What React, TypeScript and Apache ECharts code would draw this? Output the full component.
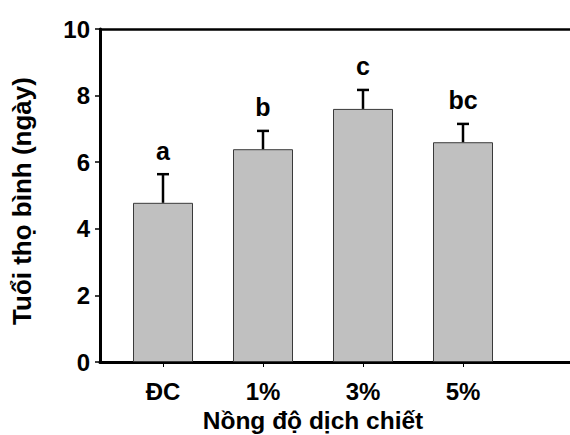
import React, { useEffect, useRef } from "react";
import * as echarts from "echarts";

const categories = ["ĐC", "1%", "3%", "5%"];
const means = [4.78, 6.39, 7.6, 6.6];
const errors = [0.86, 0.55, 0.57, 0.55];
const letters = ["a", "b", "c", "bc"];
const yMin = 0;
const yMax = 10;
const yInterval = 2;
const xTitle = "Nồng độ dịch chiết";
const yTitle = "Tuổi thọ bình (ngày)";

const FONT = "'Liberation Sans', Arial, sans-serif";

export default function App() {
  const ref = useRef<HTMLDivElement>(null);
  useEffect(() => {
    if (!ref.current) return;
    const chart = echarts.init(ref.current, null, { renderer: "svg" });
    const errData = categories.map((_, i) => [i, means[i], errors[i]]);
    chart.setOption({
      animation: false,
      backgroundColor: "#ffffff",
      grid: [
        { left: 100, top: 29, right: 0, height: 333, outerBoundsMode: "none", containLabel: false },
        { left: 113, top: 29, width: 400, height: 333, outerBoundsMode: "none", containLabel: false },
      ],
      xAxis: [
        {
          gridIndex: 0,
          type: "value",
          min: 0,
          max: 1,
          position: "bottom",
          axisLine: { show: true, lineStyle: { color: "#000", width: 3 } },
          axisTick: { show: false },
          axisLabel: { show: false },
          splitLine: { show: false },
        },
        {
          gridIndex: 0,
          type: "value",
          min: 0,
          max: 1,
          position: "top",
          axisLine: { show: true, lineStyle: { color: "#000", width: 2.5 } },
          axisTick: { show: false },
          axisLabel: { show: false },
          splitLine: { show: false },
        },
        {
          gridIndex: 1,
          type: "category",
          data: categories,
          position: "bottom",
          axisLine: { show: false },
          axisTick: { show: true, alignWithLabel: true, length: 5, lineStyle: { color: "#000", width: 1 } },
          axisLabel: {
            margin: 17,
            color: "#000",
            fontFamily: FONT,
            fontWeight: 700,
            fontSize: 24,
          },
          name: xTitle,
          nameLocation: "middle",
          nameGap: 46,
          nameTextStyle: { color: "#000", fontFamily: FONT, fontWeight: 700, fontSize: 24.5 },
          splitLine: { show: false },
        },
      ],
      yAxis: [
        {
          gridIndex: 0,
          type: "value",
          min: yMin,
          max: yMax,
          interval: yInterval,
          axisLine: { show: true, lineStyle: { color: "#000", width: 3 } },
          axisTick: { show: true, inside: false, length: 5, lineStyle: { color: "#000", width: 1.5 } },
          axisLabel: {
            margin: 10,
            color: "#000",
            fontFamily: FONT,
            fontWeight: 700,
            fontSize: 24,
          },
          splitLine: { show: false },
          name: yTitle,
          nameLocation: "middle",
          nameGap: 65,
          nameTextStyle: {
            color: "#000",
            fontFamily: FONT,
            fontWeight: 700,
            fontSize: 26,
            padding: [0, 11, 0, 0],
          },
        },
        {
          gridIndex: 1,
          type: "value",
          min: yMin,
          max: yMax,
          show: false,
        },
      ],
      series: [
        {
          type: "bar",
          xAxisIndex: 2,
          yAxisIndex: 1,
          data: means,
          barWidth: 60,
          itemStyle: { color: "#c0c0c0", borderColor: "#3a3a3a", borderWidth: 1 },
          z: 1,
        },
        {
          type: "custom",
          xAxisIndex: 2,
          yAxisIndex: 1,
          data: errData,
          z: 3,
          renderItem: (params: any, api: any) => {
            const i = api.value(0);
            const m = api.value(1);
            const e = api.value(2);
            const base = api.coord([i, m]);
            const top = api.coord([i, m + e]);
            const cap = 6;
            return {
              type: "group",
              children: [
                {
                  type: "line",
                  shape: { x1: base[0], y1: base[1], x2: top[0], y2: top[1] },
                  style: { stroke: "#000", lineWidth: 2.5 },
                },
                {
                  type: "line",
                  shape: { x1: top[0] - cap, y1: top[1], x2: top[0] + cap, y2: top[1] },
                  style: { stroke: "#000", lineWidth: 2.5 },
                },
                {
                  type: "text",
                  x: top[0],
                  y: top[1] - 11,
                  style: {
                    text: letters[params.dataIndex],
                    fill: "#000",
                    font: `bold 25px ${FONT}`,
                    textAlign: "center",
                    textVerticalAlign: "bottom",
                  },
                },
              ],
            };
          },
        },
      ],
    });
    return () => chart.dispose();
  }, []);
  return (
    <div
      ref={ref}
      style={{ position: "fixed", left: 0, top: 0, width: 570, height: 435, background: "#fff" }}
    />
  );
}
